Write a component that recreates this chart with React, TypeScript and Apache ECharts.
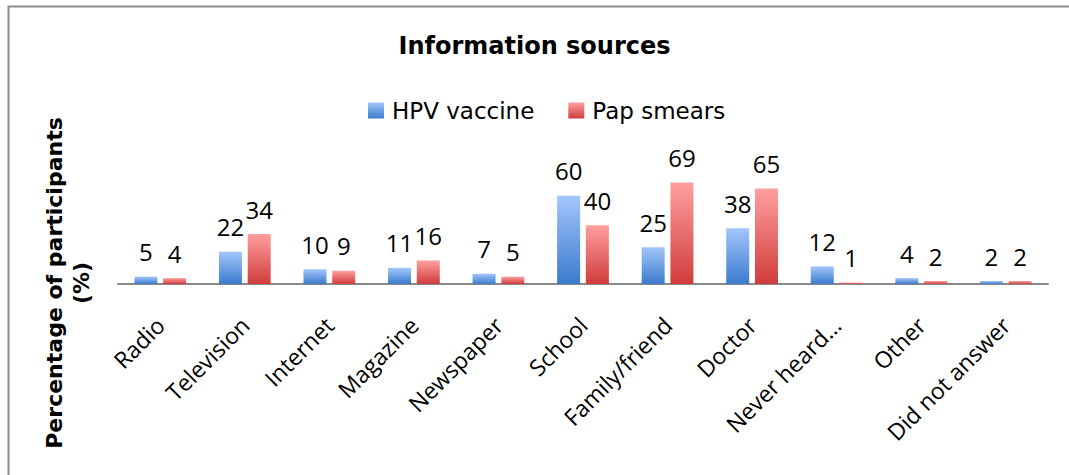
import React, { useEffect, useRef } from "react";
import * as echarts from "echarts";

const categories = [
  "Radio",
  "Television",
  "Internet",
  "Magazine",
  "Newspaper",
  "School",
  "Family/friend",
  "Doctor",
  "Never heard…",
  "Other",
  "Did not answer",
];
const hpvVaccine = [5, 22, 10, 11, 7, 60, 25, 38, 12, 4, 2];
const papSmears = [4, 34, 9, 16, 5, 40, 69, 65, 1, 2, 2];
const seriesNames = ["HPV vaccine", "Pap smears"];
const titleText = "Information sources";
const yAxisTitle = "Percentage of participants\n(%)";

export default function App() {
  const ref = useRef<HTMLDivElement>(null);
  useEffect(() => {
    document.body.style.margin = "0";
    if (!ref.current) return;
    const chart = echarts.init(ref.current, undefined, { renderer: "svg" });
    const blue = new echarts.graphic.LinearGradient(0, 0, 0, 1, [
      { offset: 0, color: "#a3c6fb" },
      { offset: 1, color: "#3b7bcd" },
    ]);
    const red = new echarts.graphic.LinearGradient(0, 0, 0, 1, [
      { offset: 0, color: "#ff9f9f" },
      { offset: 1, color: "#d03c3c" },
    ]);
    const labelStyle = {
      show: true,
      position: "top",
      distance: 13,
      fontFamily: "Open Sans",
      fontSize: 24,
      color: "#000",
    };
    chart.setOption({
      animation: false,
      backgroundColor: "#fff",
      title: {
        text: titleText,
        left: "center",
        top: 34,
        padding: 0,
        textStyle: {
          fontFamily: "DejaVu Sans",
          fontWeight: "bold",
          fontSize: 24,
          color: "#000",
        },
      },
      legend: {
        left: 368,
        top: 99,
        padding: 0,
        itemWidth: 16,
        itemHeight: 16,
        itemGap: 34,
        icon: "rect",
        textStyle: {
          fontFamily: "DejaVu Sans",
          fontSize: 23,
          color: "#000",
          padding: [0, 0, 0, 3],
        },
        data: seriesNames,
      },
      grid: { left: 118, right: 21, top: 137, bottom: 191 },
      xAxis: {
        type: "category",
        data: categories,
        axisLine: { show: true, lineStyle: { color: "#898989", width: 2 } },
        axisTick: { show: false },
        axisLabel: {
          rotate: 45,
          margin: 37,
          interval: 0,
          fontFamily: "Open Sans",
          fontSize: 23,
          color: "#000",
        },
      },
      yAxis: {
        type: "value",
        min: 0,
        max: 100,
        show: false,
      },
      graphic: [
        {
          type: "rect",
          shape: { x: 8.5, y: 6.5, width: 1100, height: 500 },
          style: { fill: "none", stroke: "#8c8c8c", lineWidth: 2 },
          silent: true,
        },
        {
          type: "text",
          x: 68,
          y: 283,
          rotation: Math.PI / 2,
          style: {
            text: yAxisTitle,
            fontFamily: "DejaVu Sans",
            fontWeight: "bold",
            fontSize: 22,
            lineHeight: 27,
            fill: "#000",
            align: "center",
            verticalAlign: "middle",
          },
        },
      ],
      series: [
        {
          name: seriesNames[0],
          type: "bar",
          data: hpvVaccine,
          barWidth: 23,
          barGap: "25%",
          itemStyle: { color: blue },
          label: labelStyle,
        },
        {
          name: seriesNames[1],
          type: "bar",
          data: papSmears,
          barWidth: 23,
          barGap: "25%",
          itemStyle: { color: red },
          label: labelStyle,
        },
      ],
    });
    return () => chart.dispose();
  }, []);
  return <div ref={ref} style={{ width: 1069, height: 475 }} />;
}
